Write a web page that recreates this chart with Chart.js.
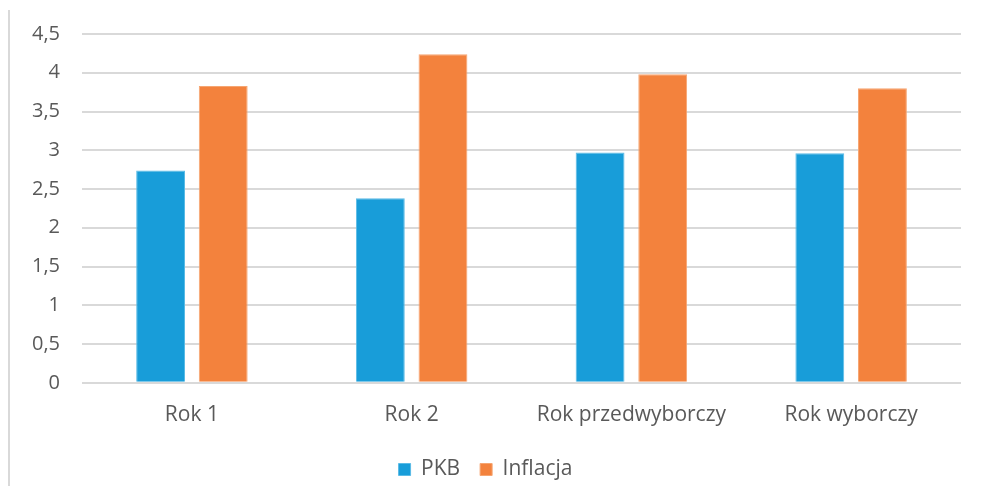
<!DOCTYPE html>
<html>
<head>
<meta charset="utf-8">
<script src="https://cdn.jsdelivr.net/npm/chart.js@4"></script>
<style>
  html, body { margin: 0; padding: 0; background: #fff; }
  #wrap { position: relative; width: 983px; height: 486px; }
  #edge { position: absolute; left: 8px; top: 10px; bottom: 0; width: 2px; background: #d9d9d9; }
</style>
</head>
<body>
<div id="wrap">
  <div id="edge"></div>
  <canvas id="myChart" width="983" height="486"></canvas>
</div>
<script>
var categories = ['Rok 1', 'Rok 2', 'Rok przedwyborczy', 'Rok wyborczy']
var pkb = [2.74, 2.38, 2.97, 2.96]
var inflacja = [3.83, 4.24, 3.98, 3.8]
var yMax = 4.5
var yStep = 0.5

var ctx = document.querySelector('#myChart').getContext('2d')
Chart.defaults.font.family = '"Open Sans", sans-serif'
Chart.defaults.color = '#595959'

// squeeze the legend box a bit so the items sit lower, keep wide gaps between them
var legendShift = {
  id: 'legendShift',
  beforeInit: function(chart) {
    var fit = chart.legend.fit
    chart.legend.fit = function() {
      fit.bind(chart.legend)()
      this.height -= 4
    }
  }
}

var myChart = new Chart(ctx, {
  type: 'bar',
  data: {
    labels: categories,
    datasets: [{
      label: 'PKB',
      data: pkb,
      backgroundColor: '#189dd9',
      borderColor: '#5bbbe6',
      borderWidth: 1
    }, {
      label: 'Inflacja',
      data: inflacja,
      backgroundColor: '#f3823d',
      borderColor: '#f6a571',
      borderWidth: 1
    }]
  },
  plugins: [legendShift],
  options: {
    responsive: false,
    animation: false,
    categoryPercentage: 0.57,
    barPercentage: 0.78,
    layout: { padding: { left: 10, right: 22, top: 22, bottom: 0 } },
    plugins: {
      tooltip: { enabled: false },
      legend: {
        position: 'bottom',
        labels: {
          boxWidth: 12,
          boxHeight: 12,
          padding: 20,
          font: { size: 21 },
          color: '#595959'
        }
      }
    },
    scales: {
      x: {
        grid: { display: false },
        border: { display: false },
        ticks: { font: { size: 21 }, padding: 12, color: '#595959' },
        afterFit: function(scale) { scale.height -= 1 }
      },
      y: {
        min: 0,
        max: yMax,
        border: { display: false },
        grid: { color: '#d9d9d9', lineWidth: 2, drawTicks: false },
        ticks: {
          stepSize: yStep,
          padding: 22,
          font: { size: 20 },
          color: '#595959',
          callback: function(v) { return String(v).replace('.', ',') }
        }
      }
    }
  }
})
</script>
</body>
</html>
